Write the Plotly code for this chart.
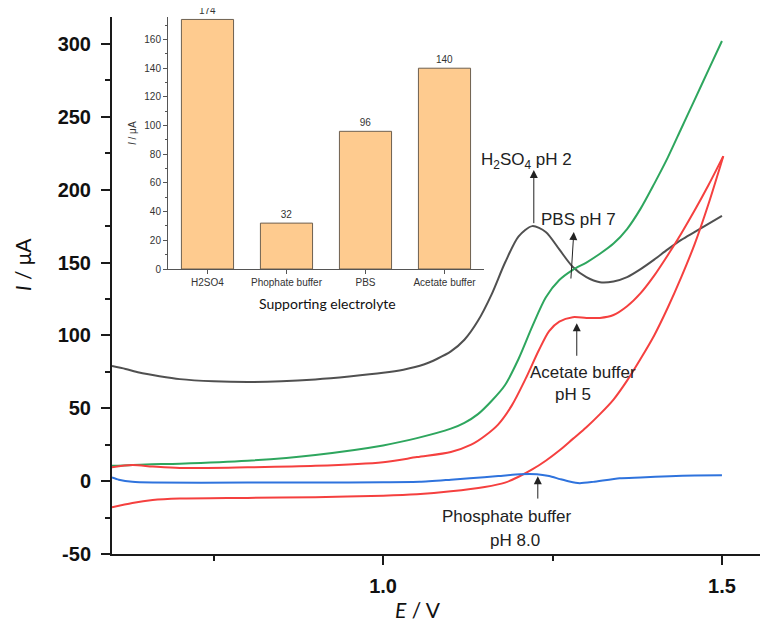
import plotly.graph_objects as go

# ---------------- data ----------------
gray_x = [0.60, 0.62, 0.64, 0.67, 0.70, 0.75, 0.80, 0.85, 0.90, 0.95, 1.00, 1.03, 1.06, 1.08, 1.10,
          1.12, 1.14, 1.16, 1.18, 1.20, 1.22, 1.24, 1.26, 1.28, 1.30, 1.32, 1.34, 1.36, 1.38, 1.40,
          1.42, 1.44, 1.46, 1.48, 1.50]
gray_y = [79, 77, 74.5, 72, 70, 68.5, 68, 68.5, 69.8, 71.8, 74.3, 76.5, 80, 84, 89,
          97, 110, 128, 150, 168, 175, 171, 159, 147, 140, 136.5, 137, 140, 145.5, 152,
          159, 165.5, 171, 176.5, 182]

green_x = [0.60, 0.65, 0.70, 0.80, 0.90, 1.00, 1.05, 1.10, 1.12, 1.14, 1.16, 1.18, 1.20, 1.22,
           1.24, 1.26, 1.28, 1.30, 1.32, 1.34, 1.36, 1.38, 1.40, 1.42, 1.44, 1.46, 1.48, 1.50]
green_y = [10.5, 11.5, 12, 14, 18, 24.5, 29.5, 36, 40, 46, 55, 66, 84, 106,
           126, 138, 145, 150, 156, 163, 173, 187, 204, 222, 242, 262, 282, 302]

# acetate buffer cyclic voltammogram: upper (anodic) and lower branches
red_up_x = [0.60, 0.63, 0.66, 0.70, 0.80, 0.90, 1.00, 1.05, 1.10, 1.13, 1.15, 1.17, 1.19, 1.21,
            1.23, 1.245, 1.26, 1.28, 1.30, 1.32, 1.34, 1.36, 1.38, 1.40, 1.42, 1.44, 1.46, 1.48, 1.502]
red_up_y = [9.5, 11, 10, 9, 9.5, 10.5, 13, 16.5, 20, 25, 31, 39, 52, 70,
            90, 103, 109.5, 112.5, 112, 112, 114, 120, 129, 141, 155, 170, 186, 203, 223]
red_lo_x = [0.60, 0.63, 0.66, 0.70, 0.80, 0.90, 1.00, 1.05, 1.10, 1.15, 1.18, 1.20, 1.22, 1.24,
            1.26, 1.28, 1.30, 1.32, 1.34, 1.36, 1.38, 1.40, 1.42, 1.44, 1.46, 1.48, 1.502]
red_lo_y = [-18, -15, -13, -12, -11.5, -11, -10, -9, -7, -4, -1, 3, 8, 14,
            21, 29, 37, 46, 56, 69, 84, 100, 119, 140, 163, 190, 223]

blue_x = [0.60, 0.61, 0.63, 0.66, 0.80, 0.90, 1.00, 1.054, 1.10, 1.128, 1.17, 1.202, 1.227, 1.245,
          1.261, 1.275, 1.29, 1.31, 1.349, 1.38, 1.423, 1.46, 1.50]
blue_y = [2.5, 1, -0.5, -1, -1, -1, -0.8, -0.5, 1, 2, 3.5, 4.8, 4.8, 3.5,
          1.4, -0.3, -1.4, -0.5, 2, 2.5, 3.4, 3.8, 4]

bar_categories = ["H2SO4", "Phophate buffer", "PBS", "Acetate buffer"]
bar_values = [174, 32, 96, 140]

x_ticks = [1.0, 1.5]
x_ticktext = ["1.0", "1.5"]
y_ticks = [-50, 0, 50, 100, 150, 200, 250, 300]
y_ticktext = ["-50", "0", "50", "100", "150", "200", "250", "300"]

# ---------------- figure ----------------
fig = go.Figure()

line_w = 2
def curve(xs, ys, color, sm=0.8):
    fig.add_trace(go.Scatter(x=xs, y=ys, mode="lines",
                             line=dict(color=color, width=line_w, shape="spline", smoothing=sm),
                             hoverinfo="skip"))

curve(gray_x, gray_y, "#505050")
curve(green_x, green_y, "#2ea65e")
curve(red_up_x, red_up_y, "#f5403f")
curve(red_lo_x, red_lo_y, "#f5403f")
curve(blue_x, blue_y, "#2f73dd", 0.6)

fig.add_trace(go.Bar(
    x=bar_categories, y=bar_values, xaxis="x2", yaxis="y2",
    marker=dict(color="#fecb8f", line=dict(color="#6e6050", width=1)),
    width=0.66,
    text=[str(v) for v in bar_values], textposition="outside", cliponaxis=False,
    textfont=dict(family="Liberation Sans", size=10, color="#333333"),
    hoverinfo="skip",
))

tickfont_main = dict(family="Liberation Sans", size=20, color="#111111", weight="bold")
inset_font = dict(family="Liberation Sans", size=10, color="#333333")

fig.update_layout(
    width=768, height=626,
    margin=dict(l=104, r=10, t=9, b=80, autoexpand=False),
    paper_bgcolor="white", plot_bgcolor="rgba(0,0,0,0)",
    showlegend=False,
    xaxis=dict(
        domain=[0, 1], range=[0.6, 1.565], anchor="y",
        showline=True, linecolor="#1a1a1a", linewidth=2,
        ticks="outside", ticklen=9, tickwidth=2, tickcolor="#1a1a1a",
        tickvals=x_ticks, ticktext=x_ticktext, tickfont=tickfont_main,
        ticklabelstandoff=4,
        minor=dict(tickvals=[0.75, 1.25], ticks="outside", ticklen=5, tickwidth=2, tickcolor="#1a1a1a"),
        showgrid=False, zeroline=False,
    ),
    yaxis=dict(
        domain=[0, 1], range=[-50, 318.5], anchor="x",
        showline=True, linecolor="#1a1a1a", linewidth=2,
        ticks="outside", ticklen=9, tickwidth=2, tickcolor="#1a1a1a",
        tickvals=y_ticks, ticktext=y_ticktext, tickfont=tickfont_main, ticklabelstandoff=6,
        minor=dict(tickvals=[-25, 25, 75, 125, 175, 225, 275], ticks="outside", ticklen=5,
                   tickwidth=2, tickcolor="#1a1a1a"),
        showgrid=False, zeroline=False,
    ),
    xaxis2=dict(
        domain=[0.0856, 0.5688], anchor="y2", range=[-0.5, 3.5],
        showline=True, linecolor="#555555", linewidth=1,
        ticks="outside", ticklen=4, tickwidth=1, tickcolor="#555555",
        tickfont=inset_font, showgrid=False, zeroline=False,
    ),
    yaxis2=dict(
        domain=[0.5307, 1.0], anchor="x2", range=[0, 175.7],
        showline=True, linecolor="#555555", linewidth=1,
        ticks="outside", ticklen=4, tickwidth=1, tickcolor="#555555",
        tick0=0, dtick=20, tickfont=inset_font,
        minor=dict(dtick=10, tick0=0, ticks="outside", ticklen=2, tickwidth=1, tickcolor="#555555"),
        showgrid=False, zeroline=False,
    ),
)

ann_font = dict(family="Liberation Sans", size=17, color="#222222")
title_font = dict(family="Lato", size=21, color="#111111")

annotations = [
    # axis titles
    dict(text="<i>E</i> / V", xref="paper", yref="paper", x=0.468, y=-0.104,
         showarrow=False, font=title_font, xanchor="center", yanchor="middle"),
    dict(text="<i>I</i> / μA", xref="paper", yref="paper", x=-0.1376, y=0.538,
         showarrow=False, font=title_font, textangle=-90, xanchor="center", yanchor="middle"),
    # inset titles
    dict(text="Supporting electrolyte", xref="paper", yref="paper", x=(327 - 112) / 654, y=(554 - 303) / 537,
         showarrow=False, font=dict(family="Lato", size=14, color="#111111"), xanchor="center", yanchor="middle"),
    dict(text="<i>I</i> / μA", xref="paper", yref="paper", x=(132 - 112) / 654, y=(554 - 133) / 537,
         showarrow=False, font=dict(family="Liberation Sans", size=10, color="#333333"), textangle=-90,
         xanchor="center", yanchor="middle"),
    # labels
    dict(text="H<sub>2</sub>SO<sub>4</sub> pH 2", x=1.2121, y=220, xref="x", yref="y", showarrow=False, font=ann_font),
    dict(text="PBS pH 7", x=1.2888, y=179.8, xref="x", yref="y", showarrow=False, font=ann_font),
    dict(text="Acetate buffer", x=1.2947, y=74.8, xref="x", yref="y", showarrow=False, font=ann_font),
    dict(text="pH 5", x=1.280, y=59.7, xref="x", yref="y", showarrow=False, font=ann_font),
    dict(text="Phosphate buffer", x=1.1826, y=-24, xref="x", yref="y", showarrow=False, font=ann_font),
    dict(text="pH 8.0", x=1.194, y=-40.5, xref="x", yref="y", showarrow=False, font=ann_font),
]

arrows = [
    (1.2224, 213.5, 1.2224, 176),
    (1.2814, 170.9, 1.277, 138),
    (1.2858, 108.4, 1.2858, 85),
    (1.2283, 3.4, 1.2283, -13),
]
for hx, hy, tx, ty in arrows:
    annotations.append(dict(
        text="", x=hx, y=hy, ax=tx, ay=ty, xref="x", yref="y", axref="x", ayref="y",
        showarrow=True, arrowhead=2, arrowsize=1.6, arrowwidth=1, arrowcolor="#222222",
    ))

fig.update_layout(annotations=annotations)

fig.write_html("out.html")
